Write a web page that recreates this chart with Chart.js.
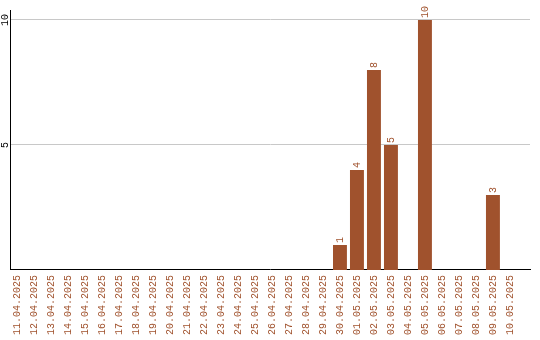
<!DOCTYPE html>
<html>
<head>
<meta charset="utf-8">
<script src="https://cdn.jsdelivr.net/npm/chart.js@4.4.1/dist/chart.umd.min.js"></script>
<style>
  html, body { margin: 0; padding: 0; background: #fff; }
  #wrap { width: 540px; height: 340px; position: relative; }
</style>
</head>
<body>
<div id="wrap"><canvas id="dayChart"></canvas></div>
<script>
// Données
const dates = [
    '11.04.2025', '12.04.2025', '13.04.2025', '14.04.2025', '15.04.2025',
    '16.04.2025', '17.04.2025', '18.04.2025', '19.04.2025', '20.04.2025',
    '21.04.2025', '22.04.2025', '23.04.2025', '24.04.2025', '25.04.2025',
    '26.04.2025', '27.04.2025', '28.04.2025', '29.04.2025', '30.04.2025',
    '01.05.2025', '02.05.2025', '03.05.2025', '04.05.2025', '05.05.2025',
    '06.05.2025', '07.05.2025', '08.05.2025', '09.05.2025', '10.05.2025'
];
const counts = [
    0, 0, 0, 0, 0, 0, 0, 0, 0, 0,
    0, 0, 0, 0, 0, 0, 0, 0, 0, 1,
    4, 8, 5, 0, 10, 0, 0, 0, 3, 0
];
const yTicks = [5, 10];

const brown = '#A0522D';
const mono = '"Liberation Mono", "DejaVu Sans Mono", monospace';

// étiquettes de valeur au-dessus des barres + graduations Y verticales
const labelPlugin = {
    id: 'labelPlugin',
    afterDatasetsDraw(chart) {
        const ctx = chart.ctx;
        const meta = chart.getDatasetMeta(0);
        ctx.save();
        ctx.font = '10px ' + mono;
        ctx.fillStyle = brown;
        ctx.textAlign = 'left';
        ctx.textBaseline = 'middle';
        meta.data.forEach((bar, i) => {
            if (!counts[i]) return;
            ctx.save();
            ctx.translate(bar.x, bar.y - 2);
            ctx.rotate(-Math.PI / 2);
            ctx.fillText(String(counts[i]), 0, 0);
            ctx.restore();
        });
        // graduations Y
        const y = chart.scales.y;
        ctx.fillStyle = '#000';
        ctx.textAlign = 'center';
        yTicks.forEach((t) => {
            ctx.save();
            ctx.translate(5, y.getPixelForValue(t));
            ctx.rotate(-Math.PI / 2);
            ctx.fillText(String(t), 0, 0);
            ctx.restore();
        });
        ctx.restore();
    }
};

new Chart(document.getElementById('dayChart'), {
    type: 'bar',
    data: {
        datasets: [{
            data: counts.map((v, i) => ({ x: i, y: v })),
            backgroundColor: brown,
            borderWidth: 0,
            barPercentage: 0.82,
            categoryPercentage: 1,
        }],
    },
    options: {
        responsive: true,
        maintainAspectRatio: false,
        animation: false,
        layout: { padding: { left: 10, top: 10, right: 10, bottom: 0 } },
        plugins: {
            legend: { display: false },
            tooltip: { enabled: false },
        },
        scales: {
            x: {
                type: 'linear',
                min: -0.41,
                max: 30.18,
                offset: false,
                afterBuildTicks: (axis) => {
                    axis.ticks = dates.map((d, i) => ({ value: i }));
                },
                grid: { display: false, drawTicks: false },
                border: { display: true, color: '#000', width: 1 },
                ticks: {
                    autoSkip: false,
                    minRotation: 90,
                    maxRotation: 90,
                    padding: 5,
                    color: brown,
                    font: { family: mono, size: 10 },
                    callback: (v) => dates[v] ?? '',
                },
            },
            y: {
                min: 0,
                max: 10.4,
                afterBuildTicks: (axis) => {
                    axis.ticks = yTicks.map((v) => ({ value: v }));
                },
                grid: { color: '#c8c8c8', drawTicks: false },
                border: { display: true, color: '#000', width: 1 },
                ticks: { display: false },
            },
        },
    },
    plugins: [labelPlugin],
});
</script>
</body>
</html>
